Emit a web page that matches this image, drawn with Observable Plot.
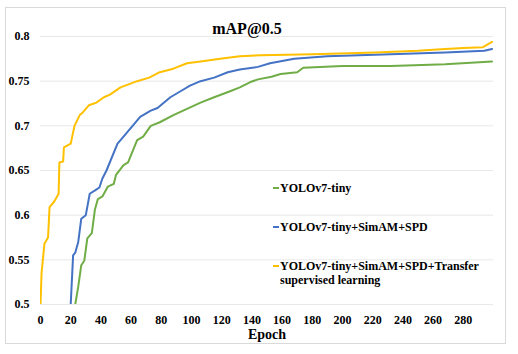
<!DOCTYPE html>
<html>
<head>
<meta charset="utf-8">
<script src="https://cdn.jsdelivr.net/npm/d3@7"></script>
<script src="https://cdn.jsdelivr.net/npm/@observablehq/plot@0.6"></script>
<style>
  body { margin: 0; background: #fff; }
  #wrap { position: relative; width: 518px; height: 354px; font-family: "Liberation Serif", "DejaVu Serif", serif; font-weight: bold; color: #000; }
  #wrap svg { position: absolute; left: 0; top: 0; }
  #wrap svg text { font-family: "Liberation Serif", "DejaVu Serif", serif; font-weight: bold; }
  #border { position: absolute; left: 5px; top: 7px; width: 501px; height: 337px; border: 1px solid #d9d9d9; box-sizing: border-box; }
  .abs { position: absolute; white-space: nowrap; }
  #title { left: 247px; top: 29px; transform: translate(-50%, -50%); font-size: 16px; }
  #xlabel { left: 267px; top: 335px; transform: translate(-50%, -50%); font-size: 14px; }
  .leg { position: absolute; left: 273px; font-size: 12px; line-height: 14px; }
  .leg .sw { display: inline-block; width: 6px; height: 2px; vertical-align: middle; margin-right: 1px; position: relative; top: -1px; }
</style>
</head>
<body>
<div id="wrap">
  <div id="border"></div>
  <div id="chart"></div>
  <div id="title" class="abs">mAP@0.5</div>
  <div id="xlabel" class="abs">Epoch</div>
  <div id="legend"></div>
</div>
<script>
const seriesNames = ["YOLOv7-tiny", "YOLOv7-tiny+SimAM+SPD", "YOLOv7-tiny+SimAM+SPD+Transfer supervised learning"];
const seriesColors = ["#70AD47", "#4472C4", "#FFC000"];

const greenEpoch = [23, 24, 25, 27, 29, 31, 34, 36, 38, 41, 44.6, 48.5, 50, 55, 58, 64, 68, 73, 79, 88, 97, 106, 115, 126, 132, 139, 144, 153, 159, 170, 174, 200, 232, 268, 299];
const greenMAP   = [0.50, 0.51, 0.52, 0.544, 0.549, 0.574, 0.58, 0.606, 0.618, 0.621, 0.632, 0.635, 0.645, 0.656, 0.659, 0.684, 0.688, 0.70, 0.704, 0.712, 0.719, 0.726, 0.732, 0.739, 0.743, 0.749, 0.752, 0.755, 0.758, 0.76, 0.765, 0.767, 0.767, 0.769, 0.772];

const blueEpoch = [20, 21.6, 23, 25, 27, 30, 32.6, 36.4, 39, 41, 43.7, 51, 53, 61, 66, 73, 77.5, 86, 93, 99, 106, 115, 124, 132, 144, 152, 168, 190, 232, 268, 294, 299];
const blueMAP   = [0.50, 0.555, 0.558, 0.57, 0.596, 0.60, 0.624, 0.628, 0.631, 0.641, 0.65, 0.68, 0.684, 0.70, 0.71, 0.717, 0.72, 0.732, 0.739, 0.745, 0.75, 0.754, 0.76, 0.763, 0.766, 0.77, 0.775, 0.778, 0.780, 0.782, 0.784, 0.786];

const yellowEpoch = [0, 0.7, 2.6, 5, 6, 9, 12, 12.5, 15, 15.5, 20, 22.5, 26, 28, 32, 37, 42, 46, 53, 64, 72, 79, 88, 97, 106, 119, 132, 146, 180, 222, 250, 268, 280, 293, 299];
const yellowMAP   = [0.50, 0.535, 0.568, 0.575, 0.609, 0.615, 0.624, 0.659, 0.66, 0.676, 0.68, 0.70, 0.712, 0.715, 0.723, 0.726, 0.732, 0.735, 0.743, 0.75, 0.754, 0.76, 0.764, 0.77, 0.772, 0.775, 0.778, 0.779, 0.780, 0.782, 0.784, 0.786, 0.787, 0.788, 0.794];

const xTicks = [0, 20, 40, 60, 80, 100, 120, 140, 160, 180, 200, 220, 240, 260, 280];
const yTicks = [0.5, 0.55, 0.6, 0.65, 0.7, 0.75, 0.8];

const toRows = (ep, v, s) => ep.map((e, i) => ({epoch: e, map: v[i], series: s}));
const rows = [
  ...toRows(greenEpoch, greenMAP, seriesNames[0]),
  ...toRows(blueEpoch, blueMAP, seriesNames[1]),
  ...toRows(yellowEpoch, yellowMAP, seriesNames[2])
];

const chart = Plot.plot({
  width: 518,
  height: 354,
  marginLeft: 40,
  marginRight: 25,
  marginTop: 36,
  marginBottom: 50,
  style: {fontSize: "12px", color: "#000", background: "transparent"},
  x: {domain: [0, 300], ticks: xTicks, tickSize: 0, tickPadding: 11, label: null},
  y: {domain: [0.5, 0.8], ticks: yTicks, tickSize: 0, tickPadding: 11, label: null, tickFormat: d => String(+d.toFixed(2))},
  color: {domain: seriesNames, range: seriesColors},
  marks: [
    Plot.gridY(yTicks, {stroke: "#d9d9d9", strokeOpacity: 0.6, strokeWidth: 1}),
    Plot.line(rows, {x: "epoch", y: "map", z: "series", stroke: "series", strokeWidth: 2, clip: true})
  ]
});
document.getElementById("chart").appendChild(chart);

const legendRows = [
  {lines: [seriesNames[0]], top: 188},
  {lines: [seriesNames[1]], top: 227},
  {lines: ["YOLOv7-tiny+SimAM+SPD+Transfer", "supervised learning"], top: 266}
];
const lg = document.getElementById("legend");
legendRows.forEach((r, i) => {
  const d = document.createElement("div");
  d.className = "leg";
  d.style.top = (r.top - 7) + "px";
  d.innerHTML = `<span class="sw" style="background:${seriesColors[i]}"></span>${r.lines[0]}` +
    (r.lines[1] ? `<br><span style="padding-left:7px">${r.lines[1]}</span>` : "");
  lg.appendChild(d);
});
</script>
</body>
</html>
